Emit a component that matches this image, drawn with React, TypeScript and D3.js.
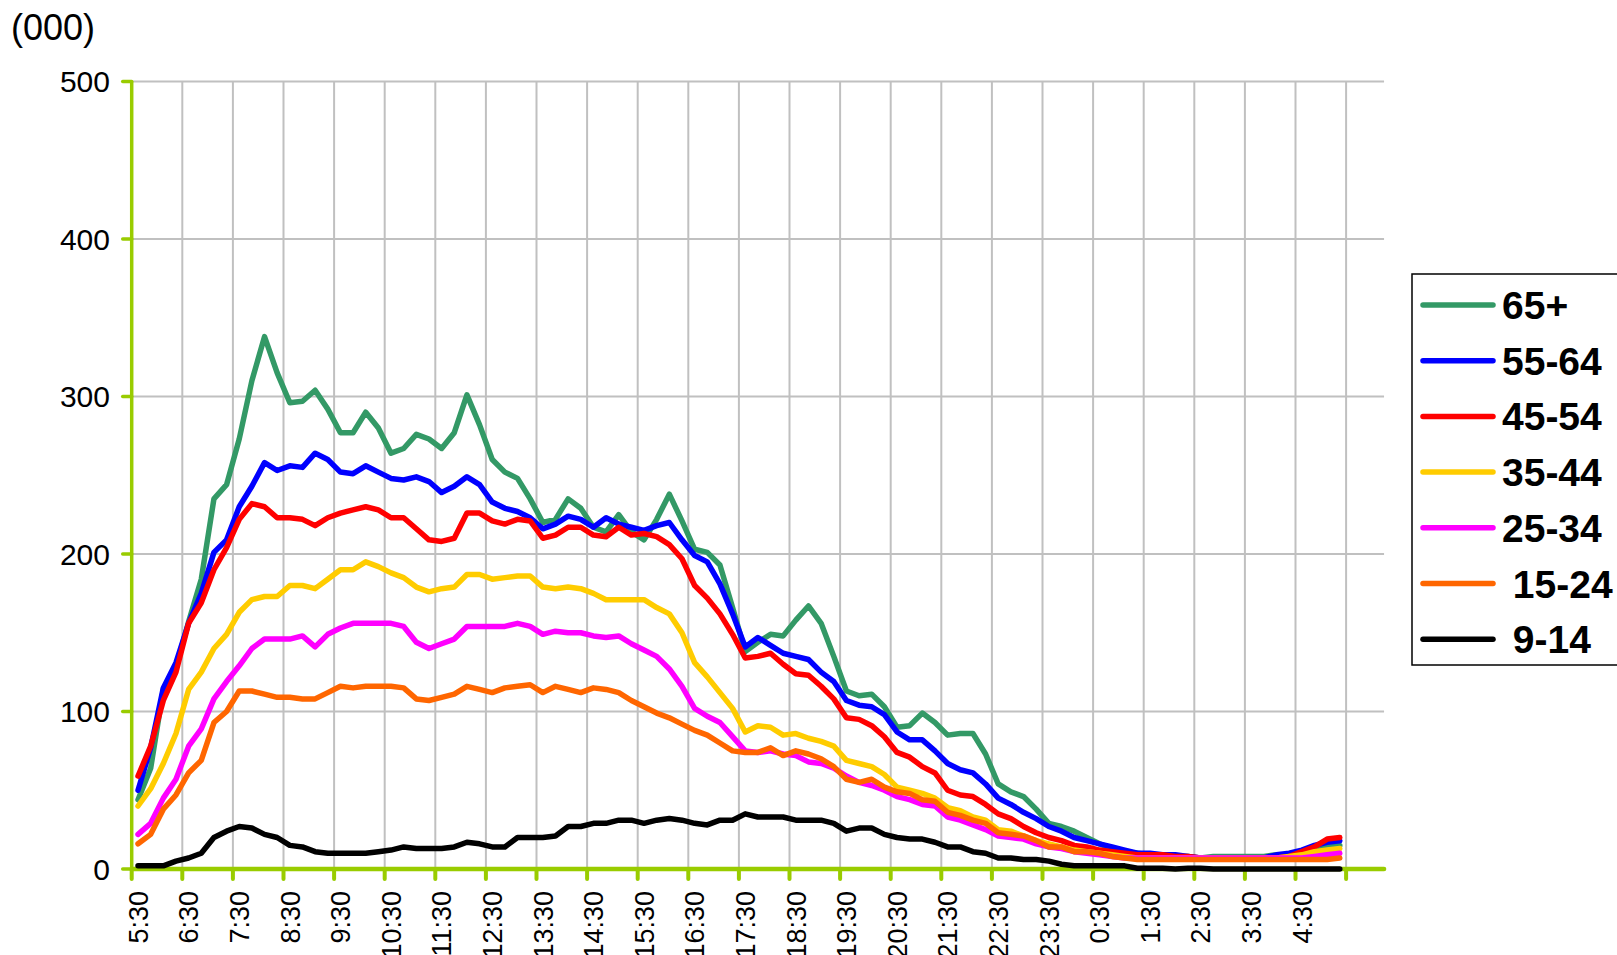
import React from "react";
import * as d3 from "d3";

const hours = ["5:30","6:30","7:30","8:30","9:30","10:30","11:30","12:30","13:30","14:30","15:30","16:30","17:30","18:30","19:30","20:30","21:30","22:30","23:30","0:30","1:30","2:30","3:30","4:30"];
const yTicks = [0, 100, 200, 300, 400, 500];

const s65 = [44,64,114,128,157,184,235,244,273,310,338,315,296,297,304,292,277,277,290,280,264,267,276,273,267,277,301,282,260,252,248,235,220,222,235,229,217,214,225,214,209,222,238,221,203,201,193,166,138,144,149,148,158,167,156,135,113,110,111,103,90,91,99,93,85,86,86,73,54,49,46,38,29,27,24,20,16,13,11,10,9,9,8,8,7,8,8,8,8,8,9,9,10,13,15,15];
const s55 = [50,77,115,131,156,175,201,209,230,243,258,253,256,255,264,260,252,251,256,252,248,247,249,246,239,243,249,244,233,229,227,223,216,219,224,222,217,223,219,217,215,218,220,209,199,195,181,162,141,147,142,137,135,133,125,119,107,104,103,98,87,82,82,75,67,63,61,54,45,41,36,32,27,24,20,18,16,14,12,10,10,9,9,8,7,7,7,7,7,7,9,10,12,15,17,18];
const s45 = [59,78,107,125,156,169,190,204,222,232,230,223,223,222,218,223,226,228,230,228,223,223,216,209,208,210,226,226,221,219,222,221,210,212,217,217,212,211,217,212,213,211,206,197,180,172,162,149,134,135,137,130,124,123,116,108,96,95,91,84,74,71,65,61,50,47,46,41,35,32,27,23,20,18,15,14,12,11,10,9,9,9,8,8,7,7,7,7,7,7,7,8,11,14,19,20];
const s35 = [40,51,67,86,114,125,140,149,163,171,173,173,180,180,178,184,190,190,195,192,188,185,179,176,178,179,187,187,184,185,186,186,179,178,179,178,175,171,171,171,171,166,162,150,131,122,112,102,87,91,90,85,86,83,81,78,69,67,65,60,52,50,48,45,39,37,33,31,25,24,21,18,16,14,12,11,10,9,8,7,7,7,7,7,7,7,7,7,7,7,7,8,9,11,12,13];
const s25 = [22,29,45,57,78,89,108,119,129,140,146,146,146,148,141,149,153,156,156,156,156,154,144,140,143,146,154,154,154,154,156,154,149,151,150,150,148,147,148,143,139,135,127,116,102,97,93,84,75,74,75,73,72,68,67,64,59,55,53,50,46,44,41,40,33,31,28,25,21,20,19,16,14,13,11,10,9,8,7,7,7,7,7,7,7,7,7,7,7,7,7,7,7,8,9,10];
const s15 = [16,22,38,47,61,69,93,100,113,113,111,109,109,108,108,112,116,115,116,116,116,115,108,107,109,111,116,114,112,115,116,117,112,116,114,112,115,114,112,107,103,99,96,92,88,85,80,75,74,74,77,72,75,73,70,65,57,55,57,52,49,48,44,43,36,34,31,29,23,22,21,18,14,14,11,11,10,8,7,6,6,6,6,6,6,6,6,6,6,6,6,6,6,6,6,7];
const s9 = [2,2,2,5,7,10,20,24,27,26,22,20,15,14,11,10,10,10,10,11,12,14,13,13,13,14,17,16,14,14,20,20,20,21,27,27,29,29,31,31,29,31,32,31,29,28,31,31,35,33,33,33,31,31,31,29,24,26,26,22,20,19,19,17,14,14,11,10,7,7,6,6,5,3,2,2,2,2,2,0.5,0.5,0.5,0,0.5,0.5,0,0,0,0,0,0,0,0,0,0,0];

const seriesNames = ["65+", "55-64", "45-54", "35-44", "25-34", " 15-24", " 9-14"];
const seriesColors = ["#339966", "#0000FF", "#FF0000", "#FFCC00", "#FF00FF", "#FF6600", "#000000"];
const seriesData = [s65, s55, s45, s35, s25, s15, s9];

const FONT = "Arial, 'Liberation Sans', Helvetica, sans-serif";

export default function App() {
  const left = 131.7;
  const bw = 12.65;
  const nCats = 99;
  const x = d3.scaleLinear().domain([0, nCats]).range([left, left + nCats * bw]);
  const y = d3.scaleLinear().domain([0, 500]).range([869, 81.5]);
  const right = x(nCats);
  const axisColor = "#99CC00";
  const line = d3
    .line<number>()
    .x((_, i) => x(i + 0.5))
    .y((d) => y(d));

  const tickIdx = d3.range(0, 97, 4);

  return (
    <svg
      width={1617}
      height={955}
      style={{ position: "absolute", left: 0, top: 0, background: "#fff" }}
      fontFamily={FONT}
    >
      <rect x={0} y={0} width={1617} height={955} fill="#fff" />
      {yTicks.filter((t) => t > 0).map((t) => (
        <line key={"h" + t} x1={left} x2={right} y1={y(t)} y2={y(t)} stroke="#C0C0C0" strokeWidth={2} />
      ))}
      {tickIdx.filter((k) => k > 0).map((k) => (
        <line key={"v" + k} x1={x(k)} x2={x(k)} y1={y(500)} y2={y(0)} stroke="#C0C0C0" strokeWidth={2} />
      ))}
      <line x1={left} x2={left} y1={y(500)} y2={y(0)} stroke={axisColor} strokeWidth={3.5} />
      {yTicks.map((t) => (
        <g key={"yt" + t}>
          <line x1={left - 9} x2={left} y1={y(t)} y2={y(t)} stroke={axisColor} strokeWidth={3.5} strokeLinecap="round" />
          <text x={110} y={y(t)} dy="0.36em" textAnchor="end" fontSize={30} fill="#000">
            {t}
          </text>
        </g>
      ))}
      <line x1={left} x2={right} y1={y(0)} y2={y(0)} stroke={axisColor} strokeWidth={4.5} strokeLinecap="round" />
      {tickIdx.map((k) => (
        <line key={"xt" + k} x1={x(k)} x2={x(k)} y1={y(0)} y2={y(0) + 10} stroke={axisColor} strokeWidth={4} strokeLinecap="round" />
      ))}
      {hours.map((h, j) => {
        const cx = x(j * 4 + 0.5);
        return (
          <text
            key={"xl" + h}
            transform={`translate(${cx},${891}) rotate(-90)`}
            textAnchor="end"
            dy="0.36em"
            fontSize={27}
            fill="#000"
          >
            {h}
          </text>
        );
      })}
      <text x={11} y={39.5} fontSize={36} fill="#000">(000)</text>
      {seriesData.map((d, si) => (
        <path
          key={"s" + si}
          d={line(d) || ""}
          fill="none"
          stroke={seriesColors[si]}
          strokeWidth={5.5}
          strokeLinejoin="round"
          strokeLinecap="round"
        />
      ))}
      <rect x={1412} y={274} width={220} height={391} fill="#fff" stroke="#000" strokeWidth={1.5} />
      {seriesNames.map((n, si) => {
        const ry = 305 + si * 55.7;
        return (
          <g key={"lg" + si}>
            <line x1={1423} x2={1493} y1={ry} y2={ry} stroke={seriesColors[si]} strokeWidth={5.5} strokeLinecap="round" />
            <text x={1502} y={ry} dy="0.36em" fontSize={39} fontWeight="bold" fill="#000" style={{ whiteSpace: "pre" }}>
              {n}
            </text>
          </g>
        );
      })}
    </svg>
  );
}
